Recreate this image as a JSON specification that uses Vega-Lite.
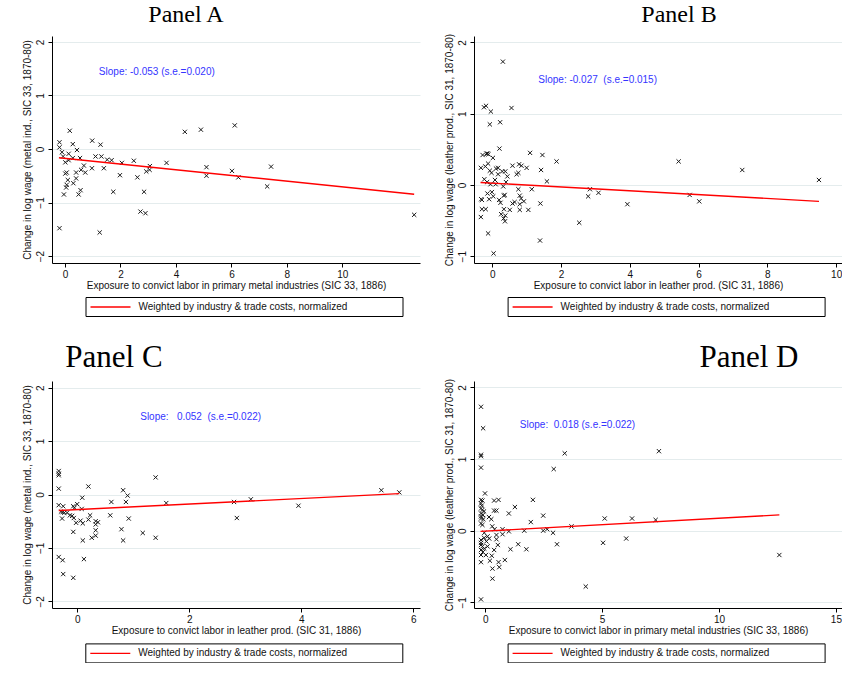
{
"$schema": "https://vega.github.io/schema/vega-lite/v6.json",
"background": "white",
"padding": {"left": 22, "top": 3, "right": 0, "bottom": 0},
"datasets": {
"A_pts": [{"x":-0.2,"y":0.125},{"x":-0.2,"y":0.03},{"x":0.17,"y":0.34},{"x":0.28,"y":0.09},{"x":0.43,"y":-0.02},{"x":0.98,"y":0.155},{"x":1.28,"y":0.08},{"x":-0.11,"y":-0.06},{"x":0.13,"y":-0.09},{"x":-0.07,"y":-0.14},{"x":0.28,"y":-0.17},{"x":0.01,"y":-0.25},{"x":0.13,"y":-0.21},{"x":0.54,"y":-0.17},{"x":1.1,"y":-0.14},{"x":1.31,"y":-0.14},{"x":1.52,"y":-0.2},{"x":1.68,"y":-0.21},{"x":2.05,"y":-0.26},{"x":2.48,"y":-0.22},{"x":3.06,"y":-0.32},{"x":3.05,"y":-0.39},{"x":2.93,"y":-0.42},{"x":3.66,"y":-0.26},{"x":4.32,"y":0.32},{"x":4.9,"y":0.36},{"x":5.1,"y":-0.34},{"x":5.1,"y":-0.5},{"x":0.68,"y":-0.31},{"x":0.97,"y":-0.36},{"x":1.4,"y":-0.36},{"x":0.58,"y":-0.39},{"x":0.4,"y":-0.44},{"x":0.06,"y":-0.44},{"x":0.01,"y":-0.46},{"x":0.73,"y":-0.44},{"x":0.4,"y":-0.55},{"x":0.1,"y":-0.58},{"x":0.3,"y":-0.64},{"x":0.06,"y":-0.67},{"x":0.04,"y":-0.72},{"x":1.98,"y":-0.49},{"x":2.61,"y":-0.53},{"x":0.56,"y":-0.77},{"x":0.49,"y":-0.85},{"x":-0.04,"y":-0.85},{"x":1.74,"y":-0.8},{"x":2.85,"y":-0.8},{"x":2.72,"y":-1.17},{"x":2.9,"y":-1.2},{"x":-0.2,"y":-1.48},{"x":1.25,"y":-1.56},{"x":6.12,"y":0.44},{"x":6.02,"y":-0.41},{"x":6.25,"y":-0.53},{"x":7.29,"y":-0.7},{"x":7.43,"y":-0.33},{"x":12.59,"y":-1.23}],
"B_pts": [{"x":0.31,"y":1.73},{"x":-0.24,"y":1.09},{"x":-0.18,"y":1.11},{"x":-0.04,"y":1.03},{"x":0.56,"y":1.08},{"x":-0.07,"y":0.85},{"x":0.23,"y":0.88},{"x":0.21,"y":0.51},{"x":-0.28,"y":0.42},{"x":-0.17,"y":0.44},{"x":-0.11,"y":0.43},{"x":-0.14,"y":0.44},{"x":0.02,"y":0.38},{"x":1.1,"y":0.45},{"x":1.46,"y":0.42},{"x":1.87,"y":0.33},{"x":-0.33,"y":0.24},{"x":-0.2,"y":0.26},{"x":-0.12,"y":0.3},{"x":-0.07,"y":0.2},{"x":-0.02,"y":0.17},{"x":0.11,"y":0.23},{"x":0.17,"y":0.24},{"x":0.29,"y":0.19},{"x":0.38,"y":0.19},{"x":0.59,"y":0.27},{"x":0.78,"y":0.29},{"x":0.85,"y":0.27},{"x":1.0,"y":0.24},{"x":0.76,"y":0.17},{"x":0.71,"y":0.15},{"x":1.42,"y":0.21},{"x":0.17,"y":0.15},{"x":0.44,"y":0.12},{"x":-0.23,"y":0.08},{"x":-0.15,"y":0.04},{"x":-0.05,"y":0.01},{"x":0.08,"y":0.07},{"x":0.1,"y":0.01},{"x":0.32,"y":-0.02},{"x":0.4,"y":0.04},{"x":1.59,"y":0.05},{"x":0.76,"y":-0.06},{"x":1.15,"y":-0.06},{"x":2.84,"y":-0.06},{"x":3.09,"y":-0.11},{"x":2.79,"y":-0.16},{"x":-0.32,"y":-0.2},{"x":-0.3,"y":-0.21},{"x":-0.09,"y":-0.2},{"x":-0.14,"y":-0.12},{"x":-0.01,"y":-0.1},{"x":0.03,"y":-0.16},{"x":0.2,"y":-0.21},{"x":0.24,"y":-0.25},{"x":0.34,"y":-0.15},{"x":0.36,"y":-0.14},{"x":0.8,"y":-0.15},{"x":0.84,"y":-0.19},{"x":0.92,"y":-0.23},{"x":0.59,"y":-0.26},{"x":0.65,"y":-0.24},{"x":1.4,"y":-0.26},{"x":0.8,"y":-0.27},{"x":-0.3,"y":-0.34},{"x":-0.19,"y":-0.34},{"x":0.34,"y":-0.34},{"x":0.51,"y":-0.35},{"x":0.8,"y":-0.35},{"x":1.05,"y":-0.35},{"x":0.26,"y":-0.41},{"x":0.38,"y":-0.43},{"x":0.33,"y":-0.47},{"x":0.37,"y":-0.51},{"x":-0.33,"y":-0.45},{"x":2.53,"y":-0.53},{"x":-0.12,"y":-0.68},{"x":1.39,"y":-0.78},{"x":0.04,"y":-0.96},{"x":3.93,"y":-0.27},{"x":5.42,"y":0.33},{"x":5.74,"y":-0.14},{"x":6.02,"y":-0.23},{"x":7.27,"y":0.21},{"x":9.5,"y":0.07}],
"C_pts": [{"x":-0.33,"y":0.44},{"x":-0.33,"y":0.39},{"x":-0.33,"y":0.36},{"x":-0.33,"y":0.11},{"x":0.2,"y":0.15},{"x":1.4,"y":0.32},{"x":0.82,"y":0.08},{"x":0.9,"y":-0.02},{"x":0.09,"y":-0.06},{"x":0.61,"y":-0.14},{"x":0.87,"y":-0.14},{"x":1.59,"y":-0.16},{"x":-0.33,"y":-0.2},{"x":-0.25,"y":-0.22},{"x":-0.07,"y":-0.22},{"x":0.0,"y":-0.18},{"x":-0.05,"y":-0.25},{"x":0.08,"y":-0.27},{"x":-0.29,"y":-0.32},{"x":-0.23,"y":-0.34},{"x":-0.18,"y":-0.34},{"x":-0.26,"y":-0.33},{"x":-0.13,"y":-0.39},{"x":-0.09,"y":-0.4},{"x":-0.27,"y":-0.45},{"x":-0.06,"y":-0.44},{"x":0.59,"y":-0.39},{"x":0.92,"y":-0.45},{"x":0.23,"y":-0.39},{"x":0.2,"y":-0.47},{"x":0.06,"y":-0.49},{"x":0.1,"y":-0.54},{"x":-0.02,"y":-0.53},{"x":0.37,"y":-0.52},{"x":0.33,"y":-0.5},{"x":0.33,"y":-0.56},{"x":0.33,"y":-0.67},{"x":-0.07,"y":-0.7},{"x":0.79,"y":-0.65},{"x":1.17,"y":-0.72},{"x":0.33,"y":-0.77},{"x":0.26,"y":-0.81},{"x":1.4,"y":-0.81},{"x":0.1,"y":-0.86},{"x":0.82,"y":-0.86},{"x":-0.33,"y":-1.17},{"x":-0.26,"y":-1.23},{"x":0.12,"y":-1.21},{"x":-0.25,"y":-1.49},{"x":-0.07,"y":-1.56},{"x":2.8,"y":-0.14},{"x":2.85,"y":-0.44},{"x":3.1,"y":-0.09},{"x":3.95,"y":-0.21},{"x":5.43,"y":0.08},{"x":5.75,"y":0.04}],
"D_pts": [{"x":-0.18,"y":1.73},{"x":-0.09,"y":1.43},{"x":-0.18,"y":1.04},{"x":-0.18,"y":1.06},{"x":-0.18,"y":0.88},{"x":3.4,"y":1.08},{"x":2.93,"y":0.86},{"x":-0.01,"y":0.52},{"x":-0.18,"y":0.43},{"x":-0.12,"y":0.42},{"x":-0.18,"y":0.38},{"x":-0.18,"y":0.31},{"x":-0.12,"y":0.29},{"x":-0.18,"y":0.24},{"x":-0.1,"y":0.22},{"x":-0.18,"y":0.17},{"x":-0.08,"y":0.16},{"x":-0.18,"y":0.1},{"x":-0.12,"y":0.08},{"x":-0.18,"y":0.2},{"x":-0.15,"y":0.35},{"x":-0.05,"y":0.27},{"x":0.38,"y":0.42},{"x":0.57,"y":0.43},{"x":2.04,"y":0.43},{"x":0.48,"y":0.28},{"x":0.38,"y":0.28},{"x":1.27,"y":0.33},{"x":1.01,"y":0.24},{"x":0.16,"y":0.19},{"x":0.26,"y":0.16},{"x":2.48,"y":0.21},{"x":1.95,"y":0.12},{"x":0.3,"y":0.06},{"x":0.4,"y":0.02},{"x":0.74,"y":0.02},{"x":1.01,"y":-0.01},{"x":1.67,"y":0.0},{"x":2.48,"y":0.0},{"x":2.65,"y":0.02},{"x":2.9,"y":-0.03},{"x":3.69,"y":0.06},{"x":-0.04,"y":-0.03},{"x":0.1,"y":-0.08},{"x":0.48,"y":-0.06},{"x":0.74,"y":-0.05},{"x":-0.18,"y":-0.13},{"x":0.17,"y":-0.11},{"x":0.48,"y":-0.12},{"x":-0.18,"y":-0.2},{"x":0.1,"y":-0.22},{"x":0.54,"y":-0.2},{"x":1.41,"y":-0.19},{"x":3.07,"y":-0.19},{"x":-0.04,"y":-0.25},{"x":0.38,"y":-0.27},{"x":1.08,"y":-0.26},{"x":1.76,"y":-0.26},{"x":-0.18,"y":-0.34},{"x":0.03,"y":-0.34},{"x":0.28,"y":-0.35},{"x":-0.18,"y":-0.44},{"x":0.2,"y":-0.42},{"x":0.57,"y":-0.44},{"x":0.84,"y":-0.41},{"x":0.31,"y":-0.53},{"x":0.6,"y":-0.51},{"x":0.31,"y":-0.67},{"x":-0.18,"y":-0.96},{"x":4.3,"y":-0.78},{"x":5.11,"y":0.17},{"x":6.28,"y":0.17},{"x":7.29,"y":0.15},{"x":7.43,"y":1.11},{"x":5.04,"y":-0.17},{"x":6.03,"y":-0.11},{"x":12.58,"y":-0.34},{"x":-0.18,"y":-0.17},{"x":-0.12,"y":-0.22},{"x":-0.18,"y":-0.27},{"x":-0.1,"y":-0.3},{"x":-0.05,"y":-0.1},{"x":0.05,"y":-0.15}],
"A_fit": [{"series":"Weighted by industry & trade costs, normalized","x":-0.22,"y":-0.165},{"series":"Weighted by industry & trade costs, normalized","x":12.59,"y":-0.845}],
"B_fit": [{"series":"Weighted by industry & trade costs, normalized","x":-0.34,"y":0.035},{"series":"Weighted by industry & trade costs, normalized","x":9.5,"y":-0.23}],
"C_fit": [{"series":"Weighted by industry & trade costs, normalized","x":-0.33,"y":-0.3},{"series":"Weighted by industry & trade costs, normalized","x":5.75,"y":0.016}],
"D_fit": [{"series":"Weighted by industry & trade costs, normalized","x":-0.2,"y":-0.01},{"series":"Weighted by industry & trade costs, normalized","x":12.58,"y":0.22}]
},
"columns": 2,
"spacing": {"row": 118, "column": 54},
"bounds": "flush",
"resolve": {"scale": {"color": "independent"}, "legend": {"color": "independent"}},
"concat": [
{
"width": 368, "height": 227,
"title": {"text": "Panel A", "fontSize": 24, "dx": -50, "offset": 9},
"layer": [
{"data": {"name": "A_pts"}, "mark": {"type": "point", "shape": "M-1,-1L1,1M-1,1L1,-1", "filled": false, "color": "#1a1a1a", "strokeWidth": 1, "size": 18, "opacity": 1},
 "encoding": {
 "x": {"field": "x", "type": "quantitative", "scale": {"domain": [-0.47, 12.8], "nice": false, "zero": false}, "axis": {"values": [0,2,4,6,8,10], "format": "d", "title": "Exposure to convict labor in primary metal industries (SIC 33, 1886)"}},
 "y": {"field": "y", "type": "quantitative", "scale": {"domain": [-2.13, 2.11], "nice": false, "zero": false}, "axis": {"values": [-2,-1,0,1,2], "format": "d", "title": "Change in log wage (metal ind., SIC 33, 1870-80)"}}}},
{"data": {"name": "A_fit"}, "mark": {"type": "line", "strokeWidth": 1.4},
 "encoding": {
 "x": {"field": "x", "type": "quantitative", "scale": {"domain": [-0.47, 12.8], "nice": false, "zero": false}},
 "y": {"field": "y", "type": "quantitative", "scale": {"domain": [-2.13, 2.11], "nice": false, "zero": false}},
 "color": {"field": "series", "type": "nominal", "scale": {"domain": ["Weighted by industry & trade costs, normalized", " "], "range": ["#ff0000", "transparent"]}, "legend": {"orient": "none", "legendX": 33.5, "legendY": 261, "direction": "horizontal", "columns": 2, "columnPadding": 0}}}},
{"data": {"values": [{"label": "Slope: -0.053 (s.e.=0.020)"}]}, "mark": {"type": "text", "align": "left", "baseline": "middle", "color": "#3535ff", "font": "Liberation Sans", "fontSize": 10}, "encoding": {"x": {"datum": 1.22, "type": "quantitative"}, "y": {"datum": 1.44, "type": "quantitative"}, "text": {"field": "label"}}}
]
},
{
"width": 368, "height": 227,
"title": {"text": "Panel B", "fontSize": 24, "dx": 21, "offset": 6},
"layer": [
{"data": {"name": "B_pts"}, "mark": {"type": "point", "shape": "M-1,-1L1,1M-1,1L1,-1", "filled": false, "color": "#1a1a1a", "strokeWidth": 1, "size": 18, "opacity": 1},
 "encoding": {
 "x": {"field": "x", "type": "quantitative", "scale": {"domain": [-0.53, 10.17], "nice": false, "zero": false}, "axis": {"values": [0,2,4,6,8,10], "format": "d", "title": "Exposure to convict labor in leather prod. (SIC 31, 1886)"}},
 "y": {"field": "y", "type": "quantitative", "scale": {"domain": [-1.095, 2.09], "nice": false, "zero": false}, "axis": {"values": [-1,0,1,2], "format": "d", "title": "Change in log wage (leather prod., SIC 31, 1870-80)"}}}},
{"data": {"name": "B_fit"}, "mark": {"type": "line", "strokeWidth": 1.4},
 "encoding": {
 "x": {"field": "x", "type": "quantitative", "scale": {"domain": [-0.53, 10.17], "nice": false, "zero": false}},
 "y": {"field": "y", "type": "quantitative", "scale": {"domain": [-1.095, 2.09], "nice": false, "zero": false}},
 "color": {"field": "series", "type": "nominal", "scale": {"domain": ["Weighted by industry & trade costs, normalized", " "], "range": ["#ff0000", "transparent"]}, "legend": {"orient": "none", "legendX": 33.6, "legendY": 261, "direction": "horizontal", "columns": 2, "columnPadding": 0}}}},
{"data": {"values": [{"label": "Slope: -0.027\u00a0 (s.e.=0.015)"}]}, "mark": {"type": "text", "align": "left", "baseline": "middle", "color": "#3535ff", "font": "Liberation Sans", "fontSize": 10}, "encoding": {"x": {"datum": 1.34, "type": "quantitative"}, "y": {"datum": 1.47, "type": "quantitative"}, "text": {"field": "label"}}}
]
},
{
"width": 368, "height": 227,
"title": {"text": "Panel C", "fontSize": 31, "dx": -122, "offset": 7},
"layer": [
{"data": {"name": "C_pts"}, "mark": {"type": "point", "shape": "M-1,-1L1,1M-1,1L1,-1", "filled": false, "color": "#1a1a1a", "strokeWidth": 1, "size": 18, "opacity": 1},
 "encoding": {
 "x": {"field": "x", "type": "quantitative", "scale": {"domain": [-0.45, 6.12], "nice": false, "zero": false}, "axis": {"values": [0,2,4,6], "format": "d", "title": "Exposure to convict labor in leather prod. (SIC 31, 1886)"}},
 "y": {"field": "y", "type": "quantitative", "scale": {"domain": [-2.125, 2.125], "nice": false, "zero": false}, "axis": {"values": [-2,-1,0,1,2], "format": "d", "title": "Change in log wage (metal ind., SIC 33, 1870-80)"}}}},
{"data": {"name": "C_fit"}, "mark": {"type": "line", "strokeWidth": 1.4},
 "encoding": {
 "x": {"field": "x", "type": "quantitative", "scale": {"domain": [-0.45, 6.12], "nice": false, "zero": false}},
 "y": {"field": "y", "type": "quantitative", "scale": {"domain": [-2.125, 2.125], "nice": false, "zero": false}},
 "color": {"field": "series", "type": "nominal", "scale": {"domain": ["Weighted by industry & trade costs, normalized", " "], "range": ["#ff0000", "transparent"]}, "legend": {"orient": "none", "legendX": 33.3, "legendY": 262.4, "direction": "horizontal", "columns": 2, "columnPadding": 0}}}},
{"data": {"values": [{"label": "Slope:\u00a0\u00a0 0.052\u00a0 (s.e.=0.022)"}]}, "mark": {"type": "text", "align": "left", "baseline": "middle", "color": "#3535ff", "font": "Liberation Sans", "fontSize": 10}, "encoding": {"x": {"datum": 1.125, "type": "quantitative"}, "y": {"datum": 1.45, "type": "quantitative"}, "text": {"field": "label"}}}
]
},
{
"width": 368, "height": 227,
"title": {"text": "Panel D", "fontSize": 31, "dx": 91, "offset": 4.5},
"layer": [
{"data": {"name": "D_pts"}, "mark": {"type": "point", "shape": "M-1,-1L1,1M-1,1L1,-1", "filled": false, "color": "#1a1a1a", "strokeWidth": 1, "size": 18, "opacity": 1},
 "encoding": {
 "x": {"field": "x", "type": "quantitative", "scale": {"domain": [-0.48, 15.26], "nice": false, "zero": false}, "axis": {"values": [0,5,10,15], "format": "d", "title": "Exposure to convict labor in primary metal industries (SIC 33, 1886)"}},
 "y": {"field": "y", "type": "quantitative", "scale": {"domain": [-1.08, 2.09], "nice": false, "zero": false}, "axis": {"values": [-1,0,1,2], "format": "d", "title": "Change in log wage (leather prod., SIC 31, 1870-80)"}}}},
{"data": {"name": "D_fit"}, "mark": {"type": "line", "strokeWidth": 1.4},
 "encoding": {
 "x": {"field": "x", "type": "quantitative", "scale": {"domain": [-0.48, 15.26], "nice": false, "zero": false}},
 "y": {"field": "y", "type": "quantitative", "scale": {"domain": [-1.08, 2.09], "nice": false, "zero": false}},
 "color": {"field": "series", "type": "nominal", "scale": {"domain": ["Weighted by industry & trade costs, normalized", " "], "range": ["#ff0000", "transparent"]}, "legend": {"orient": "none", "legendX": 33.6, "legendY": 262.4, "direction": "horizontal", "columns": 2, "columnPadding": 0}}}},
{"data": {"values": [{"label": "Slope:\u00a0 0.018 (s.e.=0.022)"}]}, "mark": {"type": "text", "align": "left", "baseline": "middle", "color": "#3535ff", "font": "Liberation Sans", "fontSize": 10}, "encoding": {"x": {"datum": 1.48, "type": "quantitative"}, "y": {"datum": 1.47, "type": "quantitative"}, "text": {"field": "label"}}}
]
}
],
"config": {
"view": {"stroke": null},
"font": "Liberation Sans",
"title": {"font": "Liberation Serif", "fontWeight": "normal", "color": "#000", "frame": "group", "anchor": "middle", "baseline": "alphabetic"},
"axis": {"domainColor": "#000", "domainWidth": 1, "tickColor": "#000", "tickSize": 4, "tickWidth": 1, "labelFont": "Liberation Sans", "labelFontSize": 10, "labelColor": "#111", "titleFont": "Liberation Sans", "titleFontSize": 10, "titleFontWeight": "normal", "titleColor": "#111", "labelFlush": false, "labelOverlap": false},
"axisX": {"grid": false, "labelPadding": 2, "titlePadding": 1},
"axisY": {"grid": true, "gridColor": "#e4eced", "gridWidth": 1, "labelAngle": -90, "labelAlign": "center", "labelBaseline": "bottom", "labelPadding": 3, "titlePadding": 3},
"legend": {"title": null, "symbolType": "M-4,0L4,0", "symbolSize": 100, "symbolOffset": 15, "symbolStrokeWidth": 1.4, "labelFont": "Liberation Sans", "labelFontSize": 10, "labelColor": "#111", "labelOffset": 22, "labelLimit": 0, "strokeColor": "#000", "strokeWidth": 1, "fillColor": "#fff", "padding": 4}
}
}
